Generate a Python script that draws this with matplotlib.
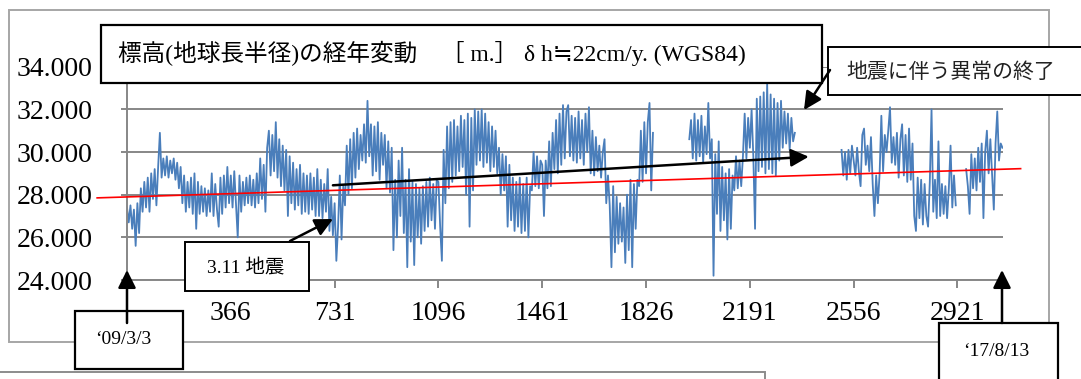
import numpy as np
import matplotlib
matplotlib.use("Agg")
import matplotlib.pyplot as plt
from matplotlib.patches import Rectangle, FancyArrowPatch
from matplotlib.transforms import Affine2D

plt.rcParams['font.family'] = ['Liberation Serif', 'Noto Sans CJK JP', 'DejaVu Sans']

# --- DATA (height [m], ~6 day samples, NaN = no data) ---
nan = np.nan
per_year = 60
year_start = [1, 366, 731, 1096, 1461, 1826, 2191, 2556, 2921]
h_y1 = [27.4, 26.7, 27.5, 26.4, 27.3, 25.6, 27.6, 26.2, 28.3, 27.2,
        28.6, 27.4, 28.8, 27.2, 29.0, 27.8, 29.2, 27.5, 29.3, 30.9,
        28.8, 29.7, 28.9, 29.8, 28.8, 29.6, 29.0, 29.7, 28.7, 29.5,
        28.3, 29.3, 27.6, 28.9, 27.2, 28.6, 27.4, 28.8, 27.1, 29.0,
        26.4, 28.6, 27.1, 28.4, 27.2, 28.3, 27.0, 28.2, 27.2, 29.0,
        27.0, 28.5, 27.3, 26.5, 28.8, 27.1, 28.9, 27.4, 29.3, 27.6]
h_y2 = [28.9, 27.4, 29.1, 27.5, 26.0, 28.9, 27.2, 28.6, 27.5, 28.8,
        27.6, 28.9, 27.5, 28.7, 27.4, 29.0, 27.6, 29.7, 27.8, 29.4,
        27.2, 30.2, 31.0, 28.9, 30.8, 29.1, 31.4, 28.8, 30.6, 28.4,
        30.3, 28.2, 30.1, 27.0, 29.8, 27.6, 29.5, 27.3, 29.2, 27.5,
        29.4, 27.1, 29.0, 27.2, 28.9, 27.1, 29.0, 27.3, 28.8, 27.0,
        29.2, 27.0, 28.7, 26.9, 28.5, 27.2, 29.2, 26.3, 27.9, 26.1]
h_y3 = [27.6, 24.9, 26.5, 28.9, 25.9, 28.4, 27.5, 30.3, 28.0, 30.6,
        28.3, 30.9, 28.8, 31.1, 29.2, 30.8, 29.6, 31.3, 29.5, 32.4,
        29.8, 31.3, 28.9, 31.2, 29.1, 31.4, 28.7, 30.9, 29.4, 30.8,
        28.3, 30.5, 28.1, 30.2, 25.4, 28.7, 26.0, 29.6, 27.0, 30.2,
        26.2, 28.7, 24.6, 29.2, 25.8, 28.6, 24.7, 28.5, 26.0, 28.3,
        25.7, 28.4, 26.3, 28.6, 26.5, 28.8, 26.8, 28.5, 26.4, 28.7]
h_y4 = [28.6, 26.5, 24.9, 30.1, 27.6, 31.2, 28.3, 31.4, 28.6, 31.5,
        28.9, 31.2, 29.1, 31.7, 29.3, 31.5, 28.0, 31.8, 26.5, 31.6,
        28.2, 32.0, 29.4, 31.9, 29.6, 32.0, 29.3, 31.8, 29.5, 31.4,
        29.1, 31.2, 29.3, 31.0, 29.0, 30.2, 28.0, 29.9, 28.2, 29.8,
        26.5, 29.4, 26.8, 28.8, 26.3, 28.6, 26.5, 28.8, 26.2, 28.5,
        26.3, 28.8, 26.0, 28.4, 28.2, 30.0, 28.4, 29.8, 28.3, 29.6]
h_y5 = [29.4, 27.0, 29.6, 28.3, 30.5, 28.4, 30.9, 29.2, 31.5, 29.0,
        31.8, 29.4, 32.2, 29.7, 31.9, 32.2, 29.8, 31.7, 29.6, 31.6,
        29.5, 31.9, 29.7, 31.5, 29.4, 31.8, 30.0, 32.1, 29.0, 31.0,
        28.9, 30.7, 29.1, 30.3, 28.8, 30.0, 30.6, 27.6, 28.9, 27.5,
        24.6, 28.4, 25.3, 27.9, 25.7, 27.6, 25.8, 27.4, 24.8, 28.0,
        25.4, 28.7, 24.6, 28.5, 26.4, 28.7, 28.4, 31.0, 28.6, 31.4]
h_y6 = [29.0, 31.4, 32.3, 28.2, 30.9] + [nan] * 20 + \
       [30.6, 31.5, 29.7, 31.8, 29.6,
        31.5, 29.8, 31.7, 29.5, 31.2, 29.9, 32.3, 29.7, 30.6, 24.2,
        29.9, 27.1, 30.5, 26.3, 29.3, 26.8, 29.0, 25.9, 29.2, 26.4,
        28.9, 28.2, 29.8, 28.3, 29.6, 28.4, 29.8, 31.8, 29.7, 31.6]
h_y7 = [30.2, 32.0, 29.8, 26.4, 32.5, 29.1, 32.6, 29.3, 32.8, 29.0,
        33.2, 29.2, 32.7, 29.0, 32.5, 28.9, 32.3, 29.6, 32.4, 30.2,
        31.9, 30.4, 31.8, 30.1, 31.6, 30.5, 30.9] + [nan] * 26 + \
       [30.1, 28.9, 30.0, 28.7, 30.1, 29.0, 30.3]
h_y8 = [29.6, 28.9, 30.2, 29.1, 28.4, 30.8, 31.1, 29.4, 30.3, 29.1,
        30.7, 28.5, 27.0, 28.9, 27.6, 29.0, 31.7, 29.1, 30.8, 30.0,
        31.0, 32.1, 29.5, 30.7, 29.4, 30.9, 28.8, 30.6, 31.3, 28.9,
        30.8, 28.6, 31.1, 28.7, 30.4, 27.0, 26.3, 28.8, 26.9, 28.7,
        26.6, 28.5, 27.0, 26.5, 28.6, 32.0, 27.2, 28.7, 26.9, 30.5,
        27.0, 28.5, 27.1, 28.4, 26.9, 28.3, 30.3, 27.4, 28.9, 27.5]
h_y9 = [nan] * 5 + \
       [29.2, 28.4, 27.1, 29.9, 28.3, 29.7, 28.2, 30.2, 28.6, 30.4,
        26.9, 30.0, 31.0, 29.0, 30.6, 28.9, 27.3, 30.4, 31.9, 29.6,
        30.4, 30.2]
years = [h_y1, h_y2, h_y3, h_y4, h_y5, h_y6, h_y7, h_y8, h_y9]

trend_days = [-104, 3143]
trend_vals = [27.85, 29.22]

x_ticks = [1, 366, 731, 1096, 1461, 1826, 2191, 2556, 2921]
y_ticks = [24, 26, 28, 30, 32, 34]

title_txt = "標高(地球長半径)の経年変動　［ m.］ δ h≒22cm/y. (WGS84)"

# day axis from the per-year samples
days, heights = [], []
for start, vals in zip(year_start, years):
    days += [start + i * 365 / per_year for i in range(len(vals))]
    heights += vals

# --- PLOT ---
W, H = 1081, 379
fig = plt.figure(figsize=(W / 100, H / 100), dpi=100)
ax = fig.add_axes([127 / W, 1 - 280 / H, (1002.7 - 127) / W, (280 - 66.7) / H])
ax.patch.set_alpha(0)

grid_c = '#878787'
ax.plot(days, heights, color='#4a7ebb', lw=1.3, zorder=2)
ax.plot(trend_days, trend_vals, color='red', lw=1.2, zorder=3, clip_on=False)

ax.set_xlim(1, 3080)
ax.set_ylim(24, 34)
ax.set_xticks(x_ticks)
ax.set_xticklabels([''] + [str(t) for t in x_ticks[1:]])
ax.set_yticks(y_ticks)
ax.set_yticklabels([f"{v:.3f}" for v in y_ticks])
ax.grid(axis='y', color=grid_c, lw=1.4)
ax.set_axisbelow(True)
for s in ['top', 'right']:
    ax.spines[s].set_visible(False)
for s in ['left', 'bottom']:
    ax.spines[s].set_color(grid_c)
    ax.spines[s].set_linewidth(1.4)
ax.tick_params(axis='x', length=6, width=1.4, color=grid_c, pad=9, labelsize=20)
ax.tick_params(axis='y', length=4, width=1.4, color=grid_c, pad=21, labelsize=20)

# long black arrow (trend)
ax.annotate('', xy=(2398, 29.78), xytext=(725, 28.44), annotation_clip=False,
            arrowprops=dict(arrowstyle='-|>,head_length=0.6,head_width=0.3',
                            mutation_scale=18, color='black', lw=1.8,
                            shrinkA=0, shrinkB=0), zorder=4)

# annotations in image pixel coords
pix = Affine2D().scale(1.0 / W, -1.0 / H).translate(0, 1) + fig.transFigure


def box(x0, y0, x1, y1, ec='black', lw=1.6, z=5):
    r = Rectangle((x0, y0), x1 - x0, y1 - y0, transform=pix, facecolor='white',
                  edgecolor=ec, lw=lw, zorder=z)
    fig.add_artist(r)


def arrow(p0, p1):
    a = FancyArrowPatch(p0, p1, transform=pix,
                        arrowstyle='-|>,head_length=0.6,head_width=0.3',
                        mutation_scale=18, color='black', lw=1.8,
                        shrinkA=0, shrinkB=0, zorder=6)
    fig.add_artist(a)


# outer chart border and lower (cut off) box
fig.add_artist(Rectangle((9, 9.5), 1040, 332.5, transform=pix, facecolor='none',
                         edgecolor='#a6a6a6', lw=1.4, zorder=1))
box(-5, 372, 765, 420, ec='#8c8c8c', lw=1.4)

box(101, 25, 822, 83)
fig.text(118, 53, title_txt, transform=pix, fontsize=17, ha='left', va='center', zorder=7)

box(828, 47, 1095, 95, lw=1.4)
fig.text(846, 73, "地震に伴う異常の終了", transform=pix, fontsize=15, ha='left',
         va='center', color='#222222', zorder=7)
arrow((830, 70), (804, 110))

box(185, 242, 309, 291, lw=1.4)
fig.text(246, 268, "3.11 地震", transform=pix, fontsize=14, ha='center', va='center', zorder=7)
arrow((290, 241), (333, 219))

box(75, 311, 183, 369)
fig.text(123, 340, "‘09/3/3", transform=pix, fontsize=14, ha='center', va='center', zorder=7)
arrow((127, 323), (127, 270))

box(939, 323, 1058, 400)
fig.text(996, 352, "‘17/8/13", transform=pix, fontsize=14, ha='center', va='center', zorder=7)
arrow((1002, 323), (1002, 270))

fig.savefig("out.png", dpi=100)
